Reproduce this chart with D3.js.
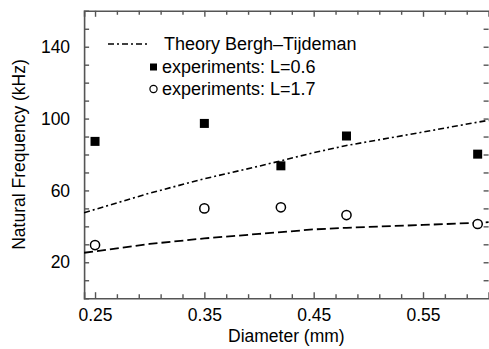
<!DOCTYPE html>
<html>
<head>
<meta charset="utf-8">
<script src="https://cdn.jsdelivr.net/npm/d3@7"></script>
<style>
  body { margin: 0; background: #fff; }
  text { font-family: "Liberation Sans", Arial, Helvetica, sans-serif; fill: #000; }
</style>
</head>
<body>
<div id="chart"></div>
<script>
const diameters = [0.25, 0.35, 0.42, 0.48, 0.60];
const freqL06 = [87.3, 97.3, 73.7, 90.3, 80.2];
const freqL17 = [29.6, 50.0, 50.6, 46.3, 41.3];

// Theory curves (Bergh-Tijdeman)
const theoryD = [0.24, 0.30, 0.35, 0.40, 0.45, 0.48, 0.55, 0.60, 0.61];
const theoryL06 = [47.6, 58.5, 66.5, 73.5, 81.0, 85.0, 92.5, 98.0, 99.0];
const theoryL17 = [25.3, 30.2, 33.3, 35.8, 38.3, 39.2, 40.8, 42.0, 42.3];

// Ticks
const xMajor = [0.25, 0.35, 0.45, 0.55];
const xMinor = [0.27, 0.29, 0.31, 0.33, 0.37, 0.39, 0.41, 0.43, 0.47, 0.49, 0.51, 0.53, 0.57, 0.59];
const yLabels = [20, 60, 100, 140];
const yMinor = [10, 30, 40, 50, 70, 80, 90, 110, 120, 130, 150];

const legendItems = ["Theory Bergh\u2013Tijdeman", "experiments: L=0.6", "experiments: L=1.7"];

const width = 489, height = 349;
const margin = { top: 10.8, right: 0.4, bottom: 50.8, left: 84.1 };

const svg = d3.select("#chart").append("svg")
  .attr("width", width)
  .attr("height", height);

const x = d3.scaleLinear().domain([0.24, 0.61]).range([margin.left, width - margin.right]);
const y = d3.scaleLinear().domain([0, 160]).range([height - margin.bottom, margin.top]);

const axisColor = "#555";

function styleAxis(g) {
  g.selectAll("path.domain").attr("stroke", axisColor).attr("stroke-width", 1.6);
  g.selectAll(".tick line").attr("stroke", axisColor).attr("stroke-width", 1.4);
  g.selectAll(".tick text")
    .style("font-family", "'Liberation Sans', Arial, sans-serif")
    .style("font-size", "17.5px")
    .attr("fill", "#000");
}

// bottom axis
svg.append("g")
  .attr("transform", `translate(0,${y(0)})`)
  .call(d3.axisBottom(x).tickValues(xMajor).tickSize(-6).tickPadding(10).tickFormat(d3.format(".2f")))
  .call(styleAxis);
svg.append("g")
  .attr("transform", `translate(0,${y(0)})`)
  .call(d3.axisBottom(x).tickValues(xMinor).tickSize(-4).tickFormat(""))
  .call(g => g.select(".domain").remove())
  .call(styleAxis);

// top axis
svg.append("g")
  .attr("transform", `translate(0,${y(160)})`)
  .call(d3.axisTop(x).tickValues(xMajor).tickSize(-6).tickFormat(""))
  .call(styleAxis);
svg.append("g")
  .attr("transform", `translate(0,${y(160)})`)
  .call(d3.axisTop(x).tickValues(xMinor).tickSize(-4).tickFormat(""))
  .call(g => g.select(".domain").remove())
  .call(styleAxis);

// left axis
svg.append("g")
  .attr("transform", `translate(${x(0.24)},0)`)
  .call(d3.axisLeft(y).tickValues(yLabels).tickSize(-5).tickPadding(14))
  .call(styleAxis);
svg.append("g")
  .attr("transform", `translate(${x(0.24)},0)`)
  .call(d3.axisLeft(y).tickValues(yMinor).tickSize(-5).tickFormat(""))
  .call(g => g.select(".domain").remove())
  .call(styleAxis);

// right axis: ticks only
svg.append("g")
  .attr("transform", `translate(${x(0.61)},0)`)
  .call(d3.axisRight(y).tickValues(yLabels.concat(yMinor)).tickSize(-5).tickFormat(""))
  .call(g => g.select(".domain").remove())
  .call(styleAxis);

// axis titles
svg.append("text")
  .attr("x", (x(0.24) + x(0.61)) / 2)
  .attr("y", 342)
  .attr("text-anchor", "middle")
  .style("font-size", "17.5px")
  .text("Diameter (mm)");

svg.append("text")
  .attr("transform", `translate(25,${(y(0) + y(160)) / 2}) rotate(-90)`)
  .attr("text-anchor", "middle")
  .style("font-size", "17.5px")
  .text("Natural Frequency (kHz)");

// theory lines
const line = d3.line().x(d => x(d[0])).y(d => y(d[1]));

svg.append("path")
  .datum(d3.zip(theoryD, theoryL06))
  .attr("fill", "none")
  .attr("stroke", "#000")
  .attr("stroke-width", 1.6)
  .attr("stroke-dasharray", "6,3,2,3")
  .attr("d", line);

svg.append("path")
  .datum(d3.zip(theoryD, theoryL17))
  .attr("fill", "none")
  .attr("stroke", "#000")
  .attr("stroke-width", 1.8)
  .attr("stroke-dasharray", "9,4")
  .attr("d", line);

// experiment markers
const sq = 9;
svg.selectAll(".sq")
  .data(d3.zip(diameters, freqL06))
  .enter().append("rect")
  .attr("class", "sq")
  .attr("x", d => x(d[0]) - sq / 2)
  .attr("y", d => y(d[1]) - sq / 2)
  .attr("width", sq)
  .attr("height", sq)
  .attr("fill", "#000");

svg.selectAll(".ci")
  .data(d3.zip(diameters, freqL17))
  .enter().append("circle")
  .attr("class", "ci")
  .attr("cx", d => x(d[0]))
  .attr("cy", d => y(d[1]))
  .attr("r", 4.6)
  .attr("fill", "#fff")
  .attr("stroke", "#000")
  .attr("stroke-width", 1.5);

// legend
const lg = svg.append("g");
const lgY = [44, 67, 89];
lg.append("line")
  .attr("x1", 108).attr("x2", 147)
  .attr("y1", lgY[0]).attr("y2", lgY[0])
  .attr("stroke", "#000").attr("stroke-width", 1.3)
  .attr("stroke-dasharray", "6,3,2,3");
lg.append("rect")
  .attr("x", 150).attr("y", lgY[1] - 3.5)
  .attr("width", 7).attr("height", 7)
  .attr("fill", "#000");
lg.append("circle")
  .attr("cx", 153.5).attr("cy", lgY[2])
  .attr("r", 3.6)
  .attr("fill", "#fff").attr("stroke", "#000").attr("stroke-width", 1.2);

lg.selectAll(".lt")
  .data(legendItems)
  .enter().append("text")
  .attr("class", "lt")
  .attr("x", (d, i) => i === 0 ? 164 : 162)
  .attr("y", (d, i) => lgY[i])
  .attr("dy", "0.36em")
  .style("font-size", "18px")
  .text(d => d);
</script>
</body>
</html>
